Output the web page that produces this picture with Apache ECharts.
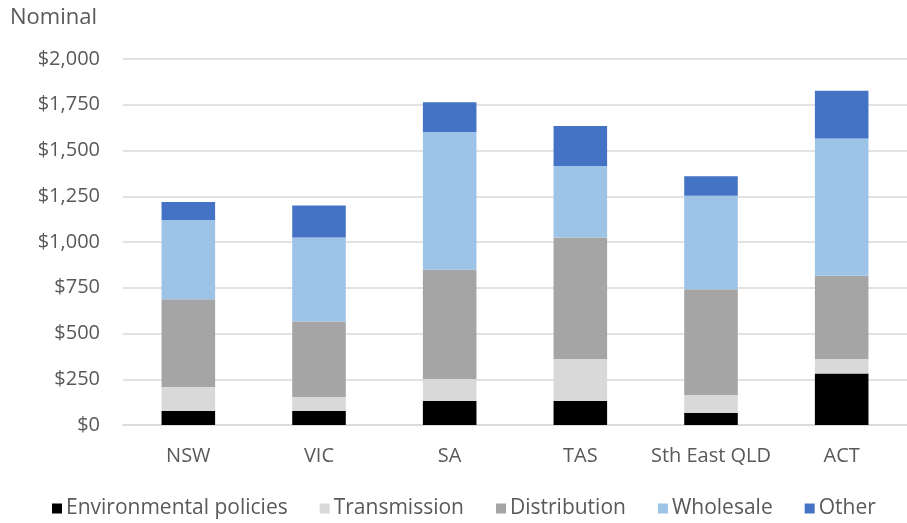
<!DOCTYPE html>
<html>
<head>
<meta charset="utf-8">
<script src="https://cdn.jsdelivr.net/npm/echarts@6/dist/echarts.min.js"></script>
<style>
  html, body { margin: 0; padding: 0; background: #fff; }
  #chart { width: 907px; height: 523px; }
</style>
</head>
<body>
<div id="chart"></div>
<script>
// Annual electricity bill components by region, nominal dollars
const regions = ['NSW', 'VIC', 'SA', 'TAS', 'Sth East QLD', 'ACT'];
const environmental = [77, 77, 131, 131, 66, 282];
const transmission = [131, 76, 120, 230, 98, 79];
const distribution = [479, 412, 598, 663, 578, 455];
const wholesale = [433, 459, 752, 391, 511, 750];
const other = [98, 175, 162, 219, 106, 261];

const seriesNames = ['Environmental policies', 'Transmission', 'Distribution', 'Wholesale', 'Other'];
const seriesData = [environmental, transmission, distribution, wholesale, other];
const seriesColors = ['#000000', '#d9d9d9', '#a5a5a5', '#9dc3e6', '#4472c4'];

const FONT = '"Open Sans", Lato, sans-serif';
const TEXT = '#595959';
const chart = echarts.init(document.getElementById('chart'));

chart.setOption({
  animation: false,
  backgroundColor: '#ffffff',
  textStyle: { fontFamily: FONT },
  graphic: [{
    type: 'text',
    left: 10,
    top: 7,
    style: { text: 'Nominal', fill: TEXT, font: '22px ' + FONT }
  }],
  legend: {
    top: 493,
    left: 47,
    itemWidth: 10,
    itemHeight: 10,
    itemGap: 32,
    icon: 'rect',
    textStyle: { color: TEXT, fontSize: 21, fontFamily: FONT, padding: [0, 0, 0, -1] },
    data: seriesNames
  },
  grid: { left: 123, top: 59, width: 792, height: 366, containLabel: false },
  xAxis: {
    type: 'category',
    data: regions,
    axisLine: { lineStyle: { color: '#d9d9d9', width: 1.5 } },
    axisTick: { show: false },
    axisLabel: { color: TEXT, fontSize: 20, fontFamily: FONT, margin: 21, interval: 0 }
  },
  yAxis: {
    type: 'value',
    min: 0,
    max: 2000,
    interval: 250,
    axisLine: { show: false },
    axisTick: { show: false },
    splitLine: { lineStyle: { color: '#d9d9d9', width: 1.5 } },
    axisLabel: {
      color: TEXT,
      fontSize: 20,
      fontFamily: FONT,
      margin: 23,
      formatter: v => '$' + v.toLocaleString('en-US')
    }
  },
  series: seriesNames.map((name, i) => ({
    name,
    type: 'bar',
    stack: 'bill',
    barWidth: '41%',
    itemStyle: { color: seriesColors[i] },
    data: seriesData[i]
  }))
});
</script>
</body>
</html>
